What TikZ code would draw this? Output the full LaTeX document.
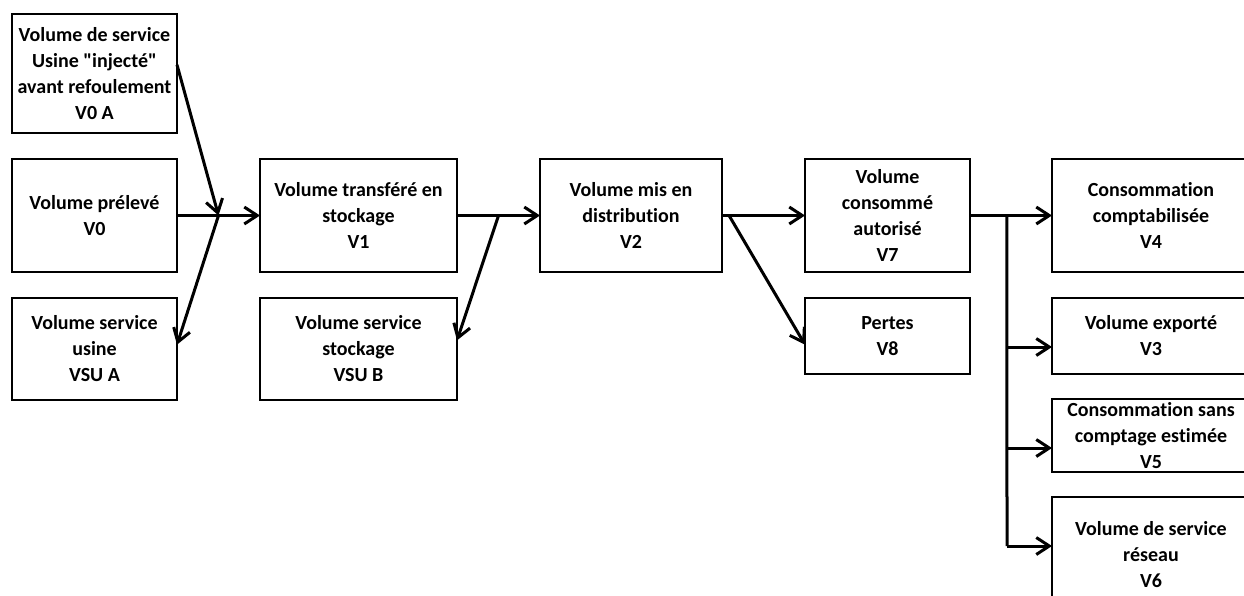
\documentclass[tikz,border=0pt]{standalone}
\usepackage{fontspec}
\setmainfont{Carlito}[Ligatures={TeX,NoCommon}]
\usetikzlibrary{positioning,arrows.meta}

\begin{document}
\begin{tikzpicture}[x=1pt,y=-1pt,node distance=26pt,
    bloc/.style={draw,line width=2.2pt,align=center,inner sep=0pt,outer sep=0pt,
      minimum width=165pt,minimum height=113pt,font=\bfseries\fontsize{20}{26}\selectfont},
    fleche/.style={line width=3pt,-{Straight Barb[length=13pt,width=17pt]}},
    trait/.style={line width=3pt}]
    \useasboundingbox (0,0) rectangle (1244,595);
    \clip (0,0) rectangle (1244,595);
    % colonne de gauche
    \node[bloc] (v0) at (94.5,215.5) {Volume prélevé\\V0};
    \node[bloc,minimum height=119pt] (v0a) [above=of v0] {Volume de service\\Usine \textquotedbl injecté\textquotedbl\\avant refoulement\\V0 A};
    \node[bloc,minimum height=102pt] (vsua) [below=of v0] {Volume service\\usine\\VSU A};
    % stockage
    \node[bloc,minimum width=197pt] (v1) [right=83pt of v0] {Volume transféré en\\stockage\\V1};
    \node[bloc,minimum width=197pt,minimum height=102pt] (vsub) [below=of v1] {Volume service\\stockage\\VSU B};
    \node[bloc,minimum width=182pt] (v2) [right=83pt of v1] {Volume mis en\\distribution\\V2};
    \node[bloc] (v7) [right=83pt of v2] {Volume\\consommé\\autorisé\\V7};
    \node[bloc,minimum height=76pt] (v8) [below=of v7] {Pertes\\V8};
    % colonne de droite
    \node[bloc,minimum width=198pt] (v4) [right=82pt of v7] {Consommation\\comptabilisée\\V4};
    \node[bloc,minimum width=198pt,minimum height=76pt] (v3) [below=of v4] {Volume exporté\\V3};
    \node[bloc,minimum width=198pt,minimum height=73pt] (v5) [below=25pt of v3] {Consommation sans\\comptage estimée\\V5};
    \node[bloc,minimum width=198pt,minimum height=116pt] (v6) [below=25pt of v5] {Volume de service\\réseau\\V6};
    % fleches
    \path (v0) -- (v1) coordinate[pos=0.5] (j1);
    \path (v1) -- (v2) coordinate[pos=0.5] (j2);
    \path (v2) -- (v7) coordinate[pos=0.085] (j3);
    \path (v7) -- (v4) coordinate[pos=0.45] (j4);
    \coordinate (t3) at (1007,347);
    \coordinate (t5) at (1007,448);
    \coordinate (t6) at (1007,546);
    \draw[fleche] (v0) -- (v1);
    \draw[fleche] (v0a.6) -- (j1);
    \draw[fleche] (j1) -- (vsua.3);
    \draw[fleche] (v1) -- (v2);
    \draw[fleche] (j2) -- (vsub.5);
    \draw[fleche] (v2) -- (v7);
    \draw[fleche] (j3) -- (v8.186);
    \draw[fleche] (v7) -- (v4);
    \draw[trait] (j4) -- (t6);
    \draw[fleche] (t3) -- (t3 -| v3.west);
    \draw[fleche] (t5) -- (t5 -| v5.west);
    \draw[fleche] (t6) -- (t6 -| v6.west);
\end{tikzpicture}
\end{document}
